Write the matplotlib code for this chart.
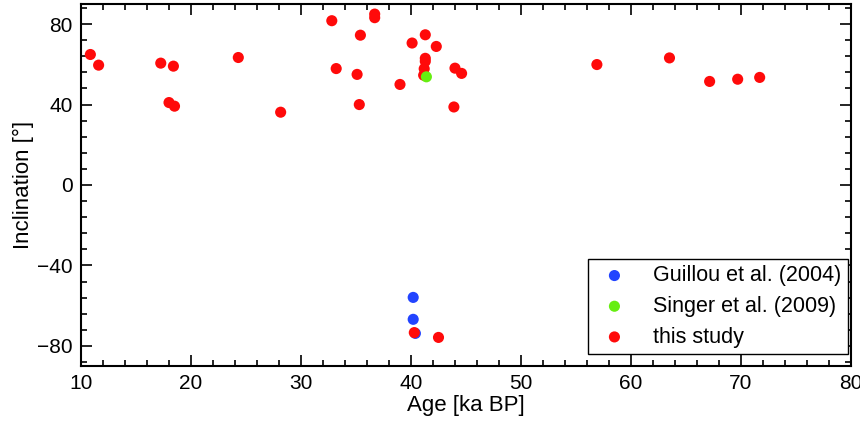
import matplotlib
matplotlib.use("Agg")
import matplotlib.pyplot as plt
from matplotlib.ticker import MultipleLocator

plt.rcParams['font.family'] = ['Liberation Sans', 'DejaVu Sans']

# Data
guillou_age = [40.2, 40.2, 40.4]
guillou_inc = [-55.9, -66.8, -73.8]
singer_age = [41.4]
singer_inc = [53.8]
study_age = [10.85, 11.6, 17.25, 18.4, 18.0, 18.5, 24.3, 28.15, 32.8, 33.2, 35.1, 35.4,
             35.3, 36.7, 36.7, 39.0, 40.1, 41.3, 41.3, 41.3, 41.2, 41.15, 42.3, 44.0,
             44.6, 43.9, 56.9, 63.5, 67.15, 69.7, 71.7, 40.3, 42.5]
study_inc = [64.9, 59.6, 60.6, 59.1, 41.0, 39.2, 63.4, 36.2, 81.7, 57.9, 55.0, 74.5,
             40.0, 85.0, 83.2, 50.0, 70.6, 74.7, 63.0, 61.5, 57.8, 54.6, 68.9, 58.1,
             55.5, 38.8, 59.9, 63.2, 51.5, 52.6, 53.5, -73.4, -75.8]

fig = plt.figure(figsize=(8.6, 4.23), dpi=100)
ax = fig.add_axes([0.0942, 0.1348, 0.8953, 0.8557])

ms = 64
ax.scatter(guillou_age, guillou_inc, s=ms, color='#2244ff', edgecolors='none', label='Guillou et al. (2004)', zorder=3)
ax.scatter(study_age, study_inc, s=ms, color='#ff0a0a', edgecolors='none', label='this study', zorder=4)
ax.scatter(singer_age, singer_inc, s=ms, color='#66ee11', edgecolors='none', label='Singer et al. (2009)', zorder=5)

ax.set_xlim(10, 80)
ax.set_ylim(-90, 90)
ax.xaxis.set_major_locator(MultipleLocator(10))
ax.xaxis.set_minor_locator(MultipleLocator(2))
ax.yaxis.set_major_locator(MultipleLocator(40))
ax.yaxis.set_minor_locator(MultipleLocator(8))
ax.tick_params(which='both', direction='in', top=True, right=True, width=1.2, labelsize=15, pad=6)
ax.tick_params(which='major', length=8)
ax.tick_params(which='minor', length=4)
for sp in ax.spines.values():
    sp.set_linewidth(1.5)

ax.set_xlabel('Age [ka BP]', fontsize=16, labelpad=1)
ax.set_ylabel('Inclination [°]', fontsize=16, labelpad=2)

h, l = ax.get_legend_handles_labels()
order = [0, 2, 1]
leg = ax.legend([h[i] for i in order], [l[i] for i in order], loc='lower right',
                bbox_to_anchor=(0.996, 0.033), fontsize=15.5, fancybox=False,
                edgecolor='black', framealpha=1, borderpad=0.3, labelspacing=0.45,
                handletextpad=0.85, handlelength=1.9, borderaxespad=0)
leg.get_frame().set_linewidth(1.0)

fig.savefig('out.png', dpi=100)
